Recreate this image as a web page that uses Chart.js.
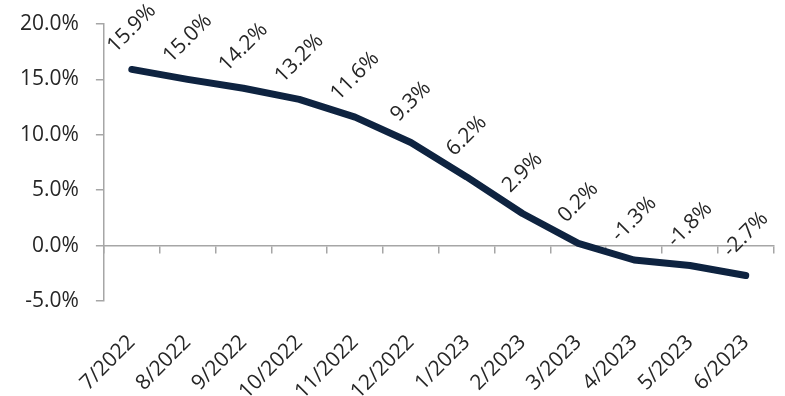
<!DOCTYPE html>
<html>
<head>
<meta charset="utf-8">
<script src="https://cdn.jsdelivr.net/npm/chart.js@4"></script>
<style>
  html, body { margin: 0; padding: 0; background: #fff; }
  #wrap { width: 785px; height: 396px; }
</style>
</head>
<body>
<div id="wrap"><canvas id="chart"></canvas></div>
<script>
// Monthly year-over-year change, 7/2022 through 6/2023
const months = ['7/2022', '8/2022', '9/2022', '10/2022', '11/2022', '12/2022',
  '1/2023', '2/2023', '3/2023', '4/2023', '5/2023', '6/2023'];
const yoyChange = [15.9, 15.0, 14.2, 13.2, 11.6, 9.3, 6.2, 2.9, 0.2, -1.3, -1.8, -2.7];
const yTicks = [-5, 0, 5, 10, 15, 20];

const FONT = '"Open Sans", sans-serif';
const FONT_SIZE = 21;
const AXIS_GREY = '#a6a6a6';
const TEXT = '#262626';
const LINE = '#0e2340';

// rotated value labels above each point
const rotatedLabels = {
  id: 'rotatedLabels',
  afterDatasetsDraw(chart) {
    const { ctx } = chart;
    const pts = chart.getDatasetMeta(0).data;
    ctx.save();
    ctx.fillStyle = TEXT;
    ctx.font = `${FONT_SIZE}px ${FONT}`;
    ctx.textAlign = 'center';
    ctx.textBaseline = 'middle';
    pts.forEach((pt, i) => {
      ctx.save();
      ctx.translate(pt.x, pt.y - 41);
      ctx.rotate(-Math.PI / 4);
      ctx.fillText(`${yoyChange[i].toFixed(1)}%`, 0, 0);
      ctx.restore();
    });
    ctx.restore();
  },
};

new Chart(document.getElementById('chart'), {
  type: 'line',
  data: {
    labels: months,
    datasets: [{
      data: yoyChange,
      borderColor: LINE,
      borderWidth: 7,
      borderCapStyle: 'round',
      borderJoinStyle: 'round',
      pointRadius: 0,
      tension: 0,
      xAxisID: 'x',
      yAxisID: 'y',
    }],
  },
  plugins: [rotatedLabels],
  options: {
    responsive: true,
    maintainAspectRatio: false,
    animation: false,
    layout: { padding: { top: 24, right: 11, left: 3, bottom: 0 } },
    plugins: { legend: { display: false }, tooltip: { enabled: false } },
    scales: {
      x: {
        type: 'category',
        offset: true,
        grid: { display: false },
        border: { display: false },
        afterFit: (scale) => { scale.height = 95; },
        ticks: {
          color: TEXT,
          font: { family: FONT, size: FONT_SIZE },
          minRotation: 45,
          maxRotation: 45,
          padding: 21,
          autoSkip: false,
        },
      },
      // zero line with category tick marks
      x2: {
        type: 'category',
        labels: months,
        offset: true,
        position: { y: 0 },
        grid: {
          offset: true,
          drawOnChartArea: false,
          tickLength: 7,
          color: AXIS_GREY,
          lineWidth: 1.5,
        },
        border: { display: true, color: AXIS_GREY, width: 1.5 },
        ticks: { display: false },
      },
      y: {
        min: -5,
        max: 20,
        afterBuildTicks: (scale) => { scale.ticks = yTicks.map((v) => ({ value: v })); },
        afterFit: (scale) => { scale.paddingTop = 0; scale.paddingBottom = 0; },
        grid: {
          drawOnChartArea: false,
          tickLength: 8,
          color: AXIS_GREY,
          lineWidth: 1.5,
        },
        border: { display: true, color: AXIS_GREY, width: 1.5 },
        ticks: {
          color: TEXT,
          font: { family: FONT, size: FONT_SIZE },
          padding: 17,
          callback: (v) => `${Number(v).toFixed(1)}%`,
        },
      },
    },
  },
});
</script>
</body>
</html>
